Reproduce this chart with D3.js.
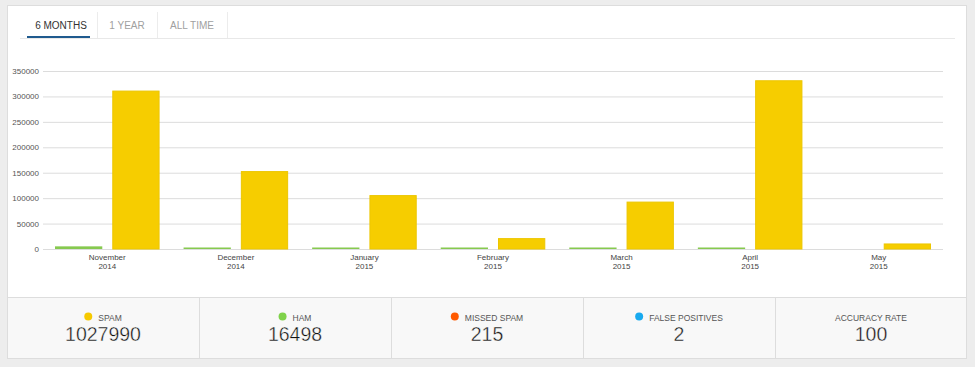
<!DOCTYPE html>
<html>
<head>
<meta charset="utf-8">
<script src="https://cdn.jsdelivr.net/npm/d3@7"></script>
<style>
  html, body { margin: 0; padding: 0; background: #ededed; }
  svg { display: block; font-family: "Liberation Sans", Arial, Helvetica, sans-serif; }
</style>
</head>
<body>
<svg id="chart" width="975" height="367"></svg>
<script>
// ---- data ----
const tabs = ["6 MONTHS", "1 YEAR", "ALL TIME"];
const months = ["November", "December", "January", "February", "March", "April", "May"];
const years = ["2014", "2014", "2015", "2015", "2015", "2015", "2015"];
const hamValues = [5200, 2300, 2600, 2100, 2200, 2098, 0];
const spamValues = [311500, 153200, 106000, 21400, 93200, 331800, 10890];
const yTicks = [0, 50000, 100000, 150000, 200000, 250000, 300000, 350000];
const statLabels = ["SPAM", "HAM", "MISSED SPAM", "FALSE POSITIVES", "ACCURACY RATE"];
const statValues = [1027990, 16498, 215, 2, 100];
const statColors = ["#f6c900", "#7fd24a", "#ff5a00", "#19aaef", null];

// ---- layout ----
const svg = d3.select("#chart");
const W = 975, H = 367;
const panel = { x: 7, y: 5, w: 960, h: 354 };

svg.append("rect").attr("x", 0).attr("y", 0).attr("width", W).attr("height", H).attr("fill", "#ededed");
svg.append("rect").attr("x", panel.x + 0.5).attr("y", panel.y + 0.5)
  .attr("width", panel.w - 1).attr("height", panel.h - 1)
  .attr("fill", "#ffffff").attr("stroke", "#dddddd");

// tabs
const tabX = [27, 97, 157, 227];
const tabG = svg.append("g");
tabs.forEach((t, i) => {
  tabG.append("text")
    .attr("x", (tabX[i] + tabX[i + 1]) / 2 + (i === 0 ? -1 : 0))
    .attr("y", 28.5)
    .attr("text-anchor", "middle")
    .attr("font-size", 10)
    .attr("fill", i === 0 ? "#333333" : "#a0a0a0")
    .text(t);
});
[97, 157, 227].forEach(x => {
  tabG.append("line").attr("x1", x + 0.5).attr("x2", x + 0.5).attr("y1", 12).attr("y2", 38)
    .attr("stroke", "#ececec");
});
tabG.append("line").attr("x1", 20).attr("x2", 955).attr("y1", 38.5).attr("y2", 38.5)
  .attr("stroke", "#e8e8e8");
tabG.append("rect").attr("x", 27).attr("y", 36).attr("width", 63).attr("height", 2)
  .attr("fill", "#1f5a8e");

// scales
const plot = { left: 43, right: 943, top: 71, bottom: 249 };
const y = d3.scaleLinear().domain([0, 350000]).range([plot.bottom, plot.top]);
const x = d3.scaleBand().domain(months).range([plot.left, plot.right]).padding(0);
const bw = x.bandwidth();
const inner = d3.scaleBand().domain(["ham", "spam"]).range([12, bw - 12])
  .paddingInner(10 / ((bw - 24 - 10) / 2 + 10)).paddingOuter(0);

// grid + y axis
const yAxis = d3.axisLeft(y).tickValues(yTicks).tickFormat(d3.format("d"))
  .tickSizeInner(-(plot.right - plot.left)).tickSizeOuter(0).tickPadding(4);
const gy = svg.append("g").attr("transform", `translate(${plot.left},0)`).call(yAxis);
gy.select(".domain").remove();
gy.selectAll(".tick line").attr("stroke", "#dcdcdc");
gy.selectAll(".tick text").attr("font-size", 8).attr("fill", "#555555")
  .attr("font-family", "Liberation Sans, Arial, sans-serif");

// bars
const groups = svg.append("g").selectAll("g").data(months).join("g")
  .attr("transform", d => `translate(${x(d)},0)`);

groups.each(function (m, i) {
  const g = d3.select(this);
  if (hamValues[i] > 0) {
    const top = y(hamValues[i]);
    const h = Math.max(plot.bottom - top, 1.5);
    g.append("rect")
      .attr("x", inner("ham")).attr("y", plot.bottom - h)
      .attr("width", inner.bandwidth())
      .attr("height", h)
      .attr("fill", "#86c94f");
  }
  if (spamValues[i] > 0) {
    const top = y(spamValues[i]);
    g.append("rect")
      .attr("x", inner("spam") + 0.5).attr("y", top + 0.5)
      .attr("width", inner.bandwidth() - 1)
      .attr("height", plot.bottom - top - 0.5)
      .attr("fill", "#f6cd00").attr("stroke", "#ecc600").attr("stroke-width", 1);
  }
});

// x labels
const xl = svg.append("g").selectAll("text").data(months).join("text")
  .attr("x", d => x(d) + bw / 2)
  .attr("y", 260)
  .attr("text-anchor", "middle")
  .attr("font-size", 8)
  .attr("fill", "#444444");
xl.append("tspan").attr("x", d => x(d) + bw / 2).attr("dy", 0).text(d => d);
xl.append("tspan").attr("x", d => x(d) + bw / 2).attr("dy", 9).text((d, i) => years[i]);

// stats bar
const sx = d3.scaleBand().domain(statLabels).range([7, 967]);
const statTop = 297, statBottom = 359;
svg.append("rect").attr("x", 7.5).attr("y", statTop + 0.5).attr("width", 959).attr("height", statBottom - statTop - 1)
  .attr("fill", "#f8f8f8").attr("stroke", "#dddddd");
statLabels.slice(1).forEach(l => {
  svg.append("line").attr("x1", sx(l) + 0.5).attr("x2", sx(l) + 0.5)
    .attr("y1", statTop).attr("y2", statBottom).attr("stroke", "#dddddd");
});

const sg = svg.append("g").selectAll("g").data(statLabels).join("g")
  .attr("transform", d => `translate(${sx(d) + sx.bandwidth() / 2},0)`);

sg.each(function (l, i) {
  const g = d3.select(this);
  const lbl = g.append("text")
    .attr("y", 320.5)
    .attr("font-size", 8.5)
    .attr("fill", "#555555")
    .text(l);
  const tw = lbl.node().getComputedTextLength();
  if (statColors[i]) {
    const total = 8 + 6 + tw;
    const start = -total / 2;
    g.append("circle").attr("cx", start + 4).attr("cy", 316.5).attr("r", 4).attr("fill", statColors[i]);
    lbl.attr("x", start + 14);
  } else {
    lbl.attr("x", 0).attr("text-anchor", "middle");
  }
  g.append("text")
    .attr("x", 0).attr("y", 341)
    .attr("text-anchor", "middle")
    .attr("font-size", 19.5)
    .attr("fill", "#111111")
    .attr("stroke", "#f8f8f8")
    .attr("stroke-width", 0.4)
    .text(statValues[i]);
});
</script>
</body>
</html>
